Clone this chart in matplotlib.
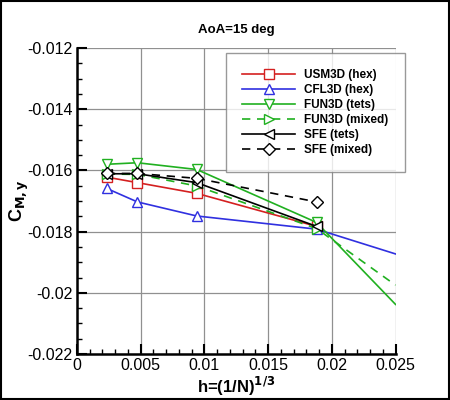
import numpy as np
import matplotlib
matplotlib.use("Agg")
import matplotlib.pyplot as plt
from matplotlib.ticker import MultipleLocator, FuncFormatter

plt.rcParams['font.family'] = ['Liberation Sans', 'DejaVu Sans']

h = [0.00234, 0.00474, 0.0094, 0.0188]

usm3d_hex = [-0.01622, -0.01640, -0.01675, -0.01783]
cfl3d_hex = [-0.01659, -0.01703, -0.01749, -0.01792, -0.01873]
fun3d_tets = [-0.01580, -0.01575, -0.01597, -0.01770, -0.02038]
fun3d_mixed = [-0.01612, -0.01613, -0.01651, -0.01790, -0.01975]
sfe_tets = [-0.01611, -0.01611, -0.01640, -0.01783]
sfe_mixed = [-0.01610, -0.01610, -0.01626, -0.01703]
h_ext = h + [0.025]

fig = plt.figure(figsize=(4.5, 4), dpi=100)
ax = fig.add_axes([0.171, 0.115, 0.708, 0.765])

mk = dict(markersize=7, markerfacecolor='white', markeredgewidth=1.0)
ax.plot(h, usm3d_hex, color='#d42020', marker='s', lw=1.2, label='USM3D (hex)', **mk)
ax.plot(h_ext, cfl3d_hex, color='#3030e0', marker='^', lw=1.2, markevery=[0, 1, 2, 3], label='CFL3D (hex)', **mk)
ax.plot(h_ext, fun3d_tets, color='#20b020', marker='v', lw=1.2, markevery=[0, 1, 2, 3], label='FUN3D (tets)', **mk)
ax.plot(h_ext, fun3d_mixed, color='#20b020', marker='>', lw=1.2, ls=(0, (5, 4)), markevery=[0, 1, 2, 3], label='FUN3D (mixed)', **mk)
ax.plot(h, sfe_tets, color='black', marker='<', lw=1.2, label='SFE (tets)', **mk)
ax.plot(h, sfe_mixed, color='black', marker='D', lw=1.2, ls=(0, (5, 4)), label='SFE (mixed)',
        markersize=6, markerfacecolor='white', markeredgewidth=1.0)

ax.set_xlim(0, 0.025)
ax.set_ylim(-0.022, -0.012)
ax.xaxis.set_major_locator(MultipleLocator(0.005))
ax.xaxis.set_minor_locator(MultipleLocator(0.001))
ax.yaxis.set_major_locator(MultipleLocator(0.002))
ax.yaxis.set_minor_locator(MultipleLocator(0.0005))
ax.xaxis.set_major_formatter(FuncFormatter(lambda v, p: '0' if abs(v) < 1e-12 else ('%g' % v)))
ax.yaxis.set_major_formatter(FuncFormatter(lambda v, p: '%g' % v))
ax.grid(True, which='major', color='#909090', lw=0.9)
ax.tick_params(which='major', direction='in', length=7, width=1.5, labelsize=11.5, pad=3)
ax.tick_params(which='minor', direction='in', length=3.5, width=1)
for s in ['top', 'right']:
    ax.spines[s].set_visible(False)
for s in ['left', 'bottom']:
    ax.spines[s].set_linewidth(1.8)

ax.set_title('AoA=15 deg', fontsize=9.5, fontweight='bold', pad=11)
ax.set_xlabel(r'h=(1/N)$^{\mathbf{1/3}}$', fontsize=12, fontweight='bold', labelpad=1)
ax.set_ylabel(r'C$_{\mathbf{M,y}}$', fontsize=13, fontweight='bold', rotation=90)
ax.yaxis.set_label_coords(-0.145, 0.5)

leg = ax.legend(loc='upper right', bbox_to_anchor=(1.03, 0.985), fontsize=8.5, handlelength=4.5,
                frameon=True, fancybox=False, borderpad=1.4, labelspacing=0.25, handletextpad=0.75,
                borderaxespad=0)
leg.get_frame().set_edgecolor('#808080')
leg.get_frame().set_linewidth(1.0)
for t in leg.get_texts():
    t.set_fontweight('bold')

fig.patches.append(plt.Rectangle((0.002, 0.002), 0.996, 0.996, transform=fig.transFigure,
                                 fill=False, edgecolor='black', lw=1.5))

fig.savefig('out.png', dpi=100)
